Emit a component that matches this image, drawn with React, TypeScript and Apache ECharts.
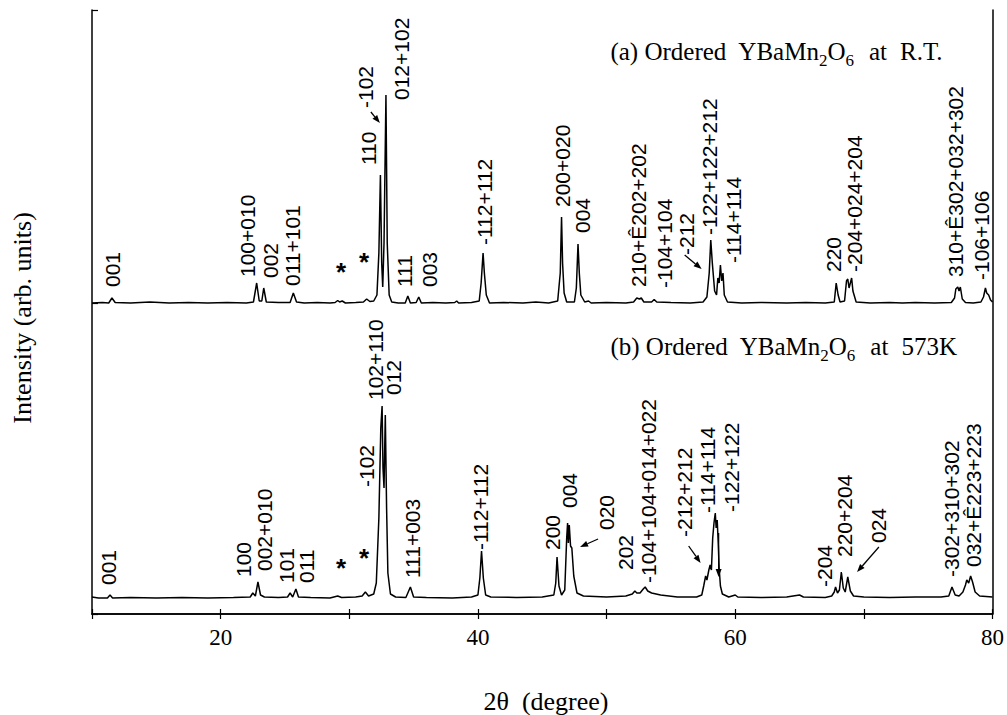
import React, { useEffect, useRef } from "react";
import * as echarts from "echarts";

// ---- axis definition ----
const X_MIN = 10;
const X_MAX = 80;
const X_STEP = 10;
const X_TICK_LABELS = [20, 40, 60, 80];
const Y_MAX = 604;
const OFFSET_A = 311; // baseline of pattern (a), arb. units
const OFFSET_B = 16; // baseline of pattern (b), arb. units

// ---- pattern (a): Ordered YBaMn2O6 at R.T.  [2theta, intensity above baseline] ----
const patternA: [number, number][] = [
  [10, 0], [10.8, 0.5], [11.3, 0], [11.55, 5], [11.8, 0.5], [13, 0], [14.5, 1], [16, 0], [17.5, 0.5], [19, 0],
  [20.5, 0.5], [22.0, 0], [22.55, 1], [22.8, 20], [23.0, 2], [23.2, 2], [23.35, 15], [23.55, 1], [24.5, 0.5],
  [25.4, 0.5], [25.65, 10], [25.9, 1], [26.5, 0], [27.5, 0.5], [28.5, 0], [28.9, 0.5], [29.1, 2.5], [29.25, 1],
  [29.45, 2], [29.7, 0], [30.5, 0.5], [31.1, 1], [31.35, 4], [31.6, 1.5], [31.9, 2], [32.15, 8], [32.3, 50],
  [32.42, 128], [32.52, 40], [32.6, 16], [32.7, 60], [32.85, 208], [32.95, 60], [33.1, 8], [33.3, 1], [33.8, 0],
  [34.35, 0], [34.55, 7], [34.75, 0], [35.2, 0.5], [35.4, 6], [35.6, 0], [36.5, 0.5], [37.5, 0], [38.2, 0.5],
  [38.35, 2], [38.5, 0], [39.5, 0.5], [40.1, 2], [40.25, 20], [40.4, 50], [40.5, 30], [40.65, 8], [40.9, 0],
  [42, 0.5], [43.5, 0], [44.5, 1], [45.5, 0], [46.2, 2], [46.4, 30], [46.5, 86], [46.58, 40], [46.7, 10],
  [46.9, 1], [47.5, 1], [47.65, 15], [47.78, 59], [47.88, 30], [48.0, 8], [48.3, 1], [48.6, 2], [48.8, 0],
  [50, 0.5], [51.5, 0], [52.1, 1], [52.35, 5], [52.55, 4], [52.7, 5], [52.9, 1], [53.5, 1], [53.7, 3.5],
  [53.9, 1], [55, 0.5], [56.5, 0], [57.5, 1], [57.8, 6], [57.98, 30], [58.1, 63], [58.22, 40], [58.4, 12],
  [58.55, 8], [58.65, 25], [58.75, 20], [58.85, 38], [58.95, 22], [59.05, 30], [59.15, 8], [59.4, 1],
  [60.5, 0], [62, 0.5], [64, 0], [65.5, 0.5], [67, 0], [67.7, 1], [67.85, 20], [68.0, 8], [68.15, 1],
  [68.5, 2], [68.65, 22], [68.75, 24], [68.85, 15], [68.95, 20], [69.05, 25], [69.15, 12], [69.4, 1],
  [70.5, 0], [72, 0.5], [73, 0], [74, 0.5], [75.5, 0], [76.8, 0.5], [77.05, 5], [77.15, 14], [77.3, 16],
  [77.4, 12], [77.5, 16], [77.65, 4], [77.9, 0.5], [78.5, 0], [79.1, 1], [79.3, 6], [79.45, 15], [79.55, 10],
  [79.7, 8], [79.85, 3], [80, 1],
];

// ---- pattern (b): Ordered YBaMn2O6 at 573K ----
const patternB: [number, number][] = [
  [10, 1], [10.5, 0], [11.2, 0], [11.4, 3], [11.6, 0], [13, 0.5], [15, 0], [17, 0.5], [19, 0], [21, 0.5],
  [22.3, 1], [22.5, 5], [22.7, 2], [22.9, 16], [23.1, 3], [23.4, 1], [24.5, 0.5], [25.2, 1], [25.4, 5],
  [25.6, 1], [25.85, 9], [26.05, 1], [27, 0.5], [28.5, 0], [29.1, 2], [29.4, 0.5], [30.5, 1], [31.0, 2],
  [31.25, 6], [31.5, 2], [31.9, 4], [32.1, 15], [32.3, 80], [32.45, 170], [32.55, 192], [32.62, 130],
  [32.7, 110], [32.8, 183], [32.9, 90], [33.0, 25], [33.2, 4], [33.6, 1], [34.4, 0.5], [34.75, 11], [35.0, 1],
  [36, 0.5], [38, 0], [39.5, 1], [40.0, 3], [40.15, 20], [40.28, 47], [40.42, 20], [40.6, 3], [41, 1],
  [43, 0.5], [45, 1], [45.9, 3], [46.05, 15], [46.15, 41], [46.3, 12], [46.5, 3], [46.75, 8], [46.9, 60],
  [46.97, 75], [47.03, 55], [47.1, 73], [47.2, 52], [47.3, 50], [47.45, 22], [47.7, 5], [48.2, 2], [50, 1],
  [51.5, 2], [52.0, 4], [52.2, 7], [52.35, 5], [52.6, 5], [52.85, 9], [53.0, 11], [53.2, 7], [53.5, 5],
  [54.2, 3], [55.5, 1], [57.0, 1], [57.4, 3], [57.55, 12], [57.7, 22], [57.8, 18], [57.95, 28], [58.05, 33],
  [58.15, 28], [58.25, 60], [58.35, 75], [58.45, 85], [58.52, 70], [58.6, 78], [58.68, 55], [58.75, 30],
  [58.85, 12], [59.0, 4], [59.5, 1], [60.0, 3], [60.2, 1], [62, 0.5], [64, 1], [65.0, 3], [65.3, 1], [67, 0.5],
  [67.5, 2], [67.7, 6], [67.8, 11], [67.95, 5], [68.1, 8], [68.25, 26], [68.4, 10], [68.55, 6], [68.75, 21],
  [68.95, 7], [69.2, 2], [70, 1], [72, 0.5], [74, 1], [76, 1], [76.6, 2], [76.85, 11], [77.1, 3], [77.4, 2],
  [77.7, 6], [77.9, 13], [78.0, 18], [78.15, 15], [78.3, 22], [78.45, 16], [78.65, 6], [79.0, 2], [80, 1],
];

// ---- reflection labels: [2theta, y (axis units) where text starts, text] ----
const labelsA: [number, number, string][] = [
  [11.63, 327, "001"], [22.08, 337, "100+010"], [23.86, 336, "002"], [25.56, 328, "011+101"],
  [31.53, 449, "110"], [31.29, 506, "-102"], [34.08, 514, "012+102"], [34.31, 327, "111"], [36.25, 327, "003"],
  [40.51, 369, "-112+112"], [46.55, 407, "200+020"], [48.1, 381, "004"], [52.51, 327, "210+Ê202+202"],
  [54.52, 326, "-104+104"], [56.23, 359, "-212"], [58.01, 379, "-122+122+212"], [59.87, 351, "-114+114"],
  [67.61, 342, "220"], [69.24, 342, "-204+024+204"], [77.14, 337, "310+Ê302+032+302"], [79.15, 334, "-106+106"],
];
const labelsB: [number, number, string][] = [
  [11.32, 29, "001"], [21.77, 37, "100"], [23.4, 43, "002+010"], [25.1, 31, "101"], [26.65, 31, "011"],
  [31.37, 127, "-102"], [32.07, 214, "102+110"], [33.46, 219, "012"], [34.93, 36, "111+003"],
  [40.2, 64, "-112+112"], [45.77, 64, "200"], [47.09, 106, "004"], [49.96, 84, "020"], [51.5, 44, "202"],
  [53.29, 31, "-104+104+014+022"], [56.07, 77, "-212+212"], [57.85, 101, "-114+114"], [59.71, 102, "-122+122"],
  [66.91, 27, "-204"], [68.46, 57, "220+204"], [71.17, 71, "024"], [76.83, 37, "-302+310+302"],
  [78.53, 47, "032+Ê223+223"],
];
// impurity markers
const stars: [number, number][] = [[29.36, 342], [31.14, 352], [29.36, 46], [31.14, 56]];
// arrows: [x1, y1, x2(tip), y2(tip)]
const arrows: [number, number, number, number][] = [
  [31.68, 502, 32.38, 491], [56.07, 359, 57.39, 345], [49.34, 75, 47.94, 67],
  [56.38, 68, 57.31, 51], [58.71, 81, 58.71, 37], [71.17, 67, 69.47, 42],
];
// panel titles
const titleA = { pre: "(a) Ordered", main: "YBaMn", s1: "2", m2: "O", s2: "6", post1: "at", post2: "R.T.", y: 554 };
const titleB = { pre: "(b) Ordered", main: "YBaMn", s1: "2", m2: "O", s2: "6", post1: "at", post2: "573K", y: 259 };

const SERIF = '"Liberation Serif", "Times New Roman", serif';
const SANS = '"Liberation Sans", Arial, sans-serif';

export default function App() {
  const ref = useRef<HTMLDivElement>(null);
  useEffect(() => {
    const chart = echarts.init(ref.current!, null, { renderer: "svg" });
    const axisLine = { show: true, lineStyle: { color: "#000", width: 1.5 } };
    chart.setOption({
      animation: false,
      backgroundColor: "#fff",
      grid: { left: 92, right: 11, top: 10, bottom: 101 },
      xAxis: [
        {
          type: "value", min: X_MIN, max: X_MAX, interval: X_STEP, position: "bottom",
          axisLine, axisTick: { show: true, inside: true, length: 5, lineStyle: { color: "#000", width: 1.2 } },
          splitLine: { show: false },
          axisLabel: {
            color: "#000", fontFamily: SERIF, fontSize: 23, margin: 12,
            formatter: (v: number) => (X_TICK_LABELS.includes(v) ? String(v) : ""),
          },
        },
        {
          type: "value", min: X_MIN, max: X_MAX, interval: X_STEP, position: "top",
          axisLine, axisTick: { show: true, inside: true, length: 5, lineStyle: { color: "#000", width: 1.2 } },
          splitLine: { show: false }, axisLabel: { show: false },
        },
      ],
      yAxis: [
        {
          type: "value", min: 0, max: Y_MAX, interval: OFFSET_A, position: "left",
          axisLine, axisTick: { show: true, inside: true, length: 6, lineStyle: { color: "#000", width: 1.2 } },
          splitLine: { show: false }, axisLabel: { show: false },
        },
        {
          type: "value", min: 0, max: Y_MAX, position: "right",
          axisLine, axisTick: { show: false }, splitLine: { show: false }, axisLabel: { show: false },
        },
      ],
      series: [
        {
          type: "line", showSymbol: false, symbol: "none", silent: true,
          lineStyle: { color: "#000", width: 1.5 },
          data: patternA.map(([x, y]) => [x, y + OFFSET_A]),
        },
        {
          type: "line", showSymbol: false, symbol: "none", silent: true,
          lineStyle: { color: "#000", width: 1.5 },
          data: patternB.map(([x, y]) => [x, y + OFFSET_B]),
        },
      ],
    });

    const px = (x: number, y: number) => chart.convertToPixel({ seriesIndex: 0 }, [x, y]) as number[];
    const g: any[] = [];
    const allLabels = [...labelsA, ...labelsB];
    allLabels.forEach(([x, y, t]) => {
      const [X, Y] = px(x, y);
      g.push({
        type: "text", x: X, y: Y, rotation: Math.PI / 2, z: 100,
        style: { text: t, fill: "#000", font: `21px ${SANS}`, align: "left", verticalAlign: "middle" },
      });
    });
    stars.forEach(([x, y]) => {
      const [X, Y] = px(x, y);
      g.push({
        type: "text", x: X, y: Y, z: 100,
        style: { text: "*", fill: "#000", font: `bold 26px ${SANS}`, align: "center", verticalAlign: "middle" },
      });
    });
    arrows.forEach(([x1, y1, x2, y2]) => {
      const [X1, Y1] = px(x1, y1);
      const [X2, Y2] = px(x2, y2);
      const dx = X2 - X1, dy = Y2 - Y1;
      const L = Math.hypot(dx, dy) || 1;
      const ux = dx / L, uy = dy / L;
      const hl = 8, hw = 3;
      const bx = X2 - ux * hl, by = Y2 - uy * hl;
      g.push({ type: "line", z: 100, shape: { x1: X1, y1: Y1, x2: bx, y2: by }, style: { stroke: "#000", lineWidth: 1.3 } });
      g.push({
        type: "polygon", z: 100,
        shape: { points: [[X2, Y2], [bx - uy * hw, by + ux * hw], [bx + uy * hw, by - ux * hw]] },
        style: { fill: "#000" },
      });
    });

    // titles with subscripts
    const canvas = document.createElement("canvas");
    const ctx = canvas.getContext("2d");
    const FS = 25, SFS = 17;
    const measure = (t: string, fs: number) => {
      if (!ctx) return t.length * fs * 0.5;
      ctx.font = `${fs}px ${SERIF}`;
      return ctx.measureText(t).width;
    };
    const addTitle = (tt: typeof titleA) => {
      const [, base] = px(X_MIN, tt.y);
      const [xs] = px(50.3, 0);
      let x = xs;
      const parts: [string, boolean, number][] = [
        [tt.pre, false, 12], [tt.main, false, 0], [tt.s1, true, 0], [tt.m2, false, 0], [tt.s2, true, 15],
        [tt.post1, false, 13], [tt.post2, false, 0],
      ];
      parts.forEach(([t, sub, gap]) => {
        const fs = sub ? SFS : FS;
        const yb = sub ? base + 6 : base;
        g.push({
          type: "text", x, y: yb - 0.34 * fs, z: 100,
          style: { text: t, fill: "#000", font: `${fs}px ${SERIF}`, align: "left", verticalAlign: "middle" },
        });
        x += measure(t, fs) + gap;
      });
    };
    addTitle(titleA);
    addTitle(titleB);

    // axis titles
    g.push({
      type: "text", x: 22, y: 318, rotation: Math.PI / 2, z: 100,
      style: { text: "Intensity (arb. units)", fill: "#000", font: `26px ${SERIF}`, align: "center", verticalAlign: "middle" },
    });
    g.push({
      type: "text", x: 546, y: 701, z: 100,
      style: { text: "2θ  (degree)", fill: "#000", font: `26px ${SERIF}`, align: "center", verticalAlign: "middle" },
    });

    chart.setOption({ graphic: g });
    return () => chart.dispose();
  }, []);
  return (
    <div
      ref={ref}
      style={{ position: "fixed", left: 0, top: 0, width: 1007, height: 715, background: "#fff" }}
    />
  );
}
